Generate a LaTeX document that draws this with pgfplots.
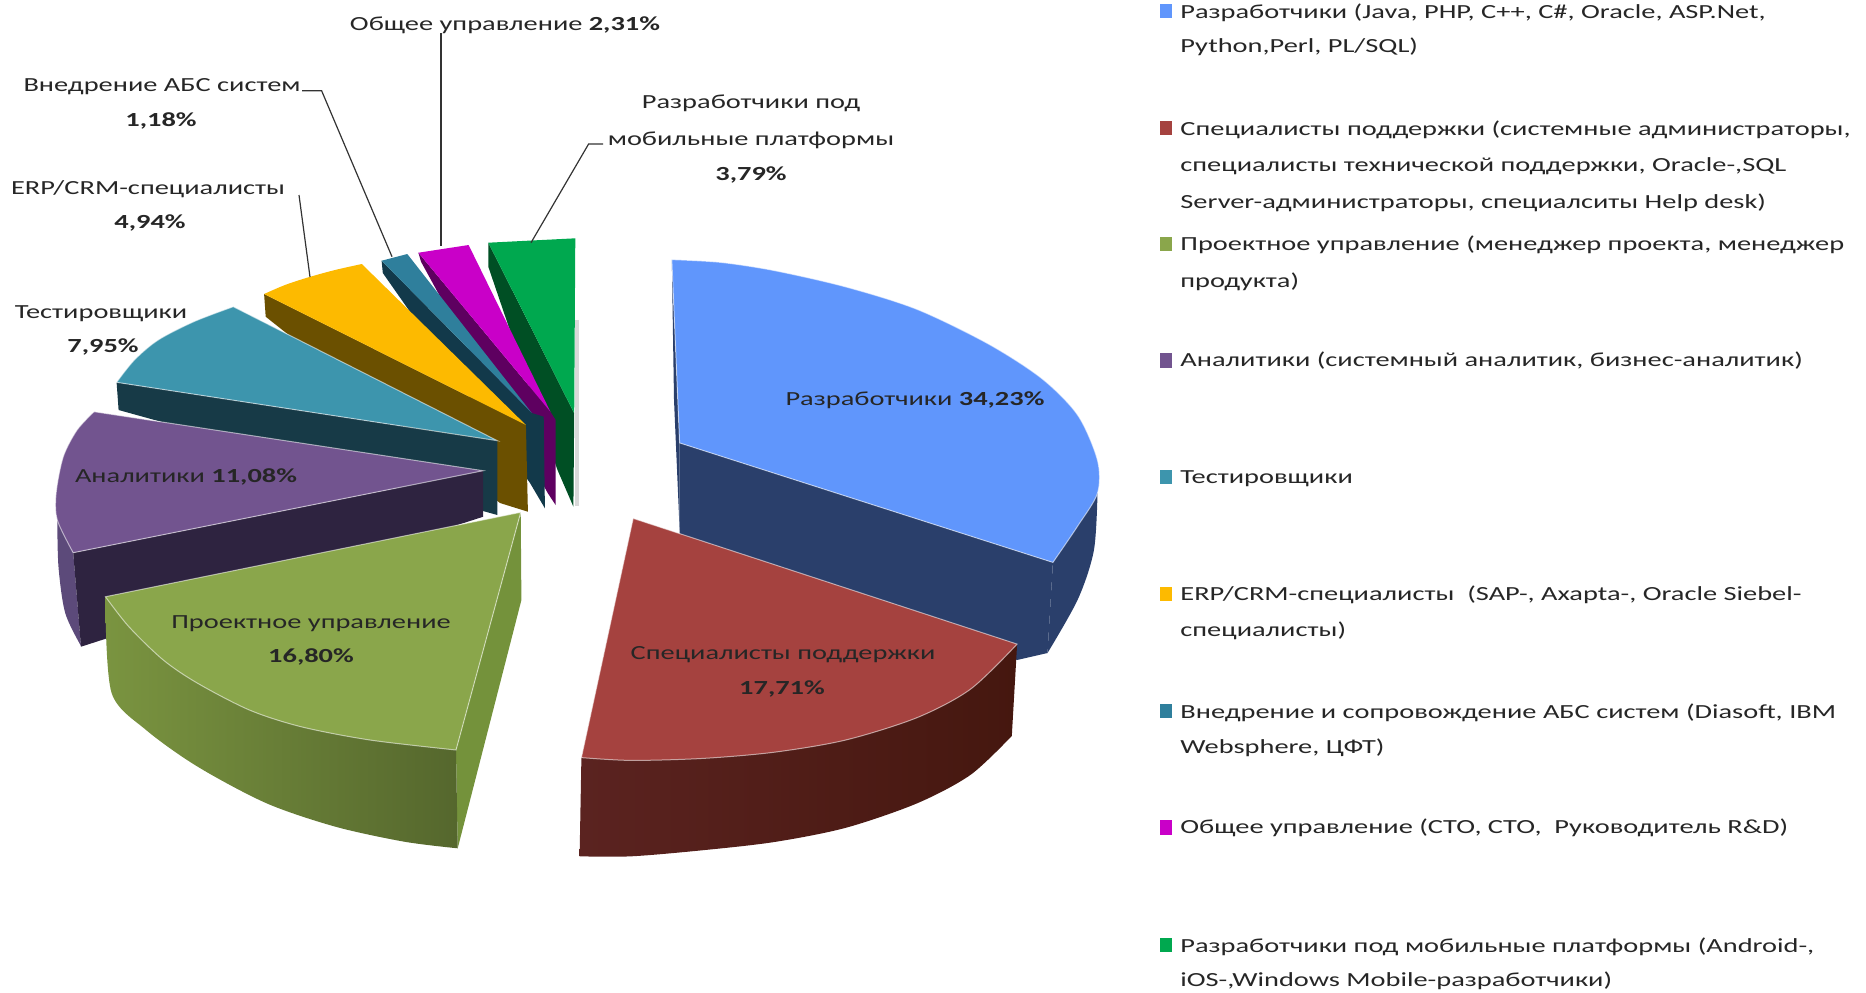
\documentclass[border=0pt]{standalone}
\usepackage{fontspec}
\setmainfont{Carlito}[FakeStretch=1.42]
\usepackage{pgfplots}
\pgfplotsset{compat=1.18}

% slice colours
\definecolor{cBlue}{HTML}{6096FC}
\definecolor{cBlueD}{HTML}{2A3F6B}
\definecolor{cRed}{HTML}{A5423F}
\definecolor{cRedA}{HTML}{5B2320}
\definecolor{cRedB}{HTML}{45170F}
\definecolor{cGreen}{HTML}{8AA64B}
\definecolor{cGreenA}{HTML}{7A9440}
\definecolor{cGreenB}{HTML}{55672D}
\definecolor{cGreenS}{HTML}{74923B}
\definecolor{cPurple}{HTML}{72548F}
\definecolor{cPurpleD}{HTML}{2E2340}
\definecolor{cPurpleS}{HTML}{5C4A7A}
\definecolor{cTeal}{HTML}{3D95AD}
\definecolor{cTealD}{HTML}{173A47}
\definecolor{cYellow}{HTML}{FDBA00}
\definecolor{cYellowD}{HTML}{6B5000}
\definecolor{cAbs}{HTML}{2F7F9C}
\definecolor{cAbsD}{HTML}{12394A}
\definecolor{cMag}{HTML}{C900C8}
\definecolor{cMagD}{HTML}{5E0060}
\definecolor{cMob}{HTML}{00A84F}
\definecolor{cMobD}{HTML}{004F24}

\newcommand{\lab}[3]{\node[anchor=base,inner sep=0pt,yshift=1.5pt,text=black!85] at (axis cs:#1,#2) {#3};}
\newcommand{\leg}[2]{\node[anchor=base west,inner sep=0pt,yshift=1.5pt,text=black!85] at (axis cs:1180,#1) {#2};}

\tikzset{face/.style={draw=white,draw opacity=0.55,line width=0.5pt}}

\begin{document}
\begin{tikzpicture}
\begin{axis}[
  scale only axis,
  width=933pt,
  height=496pt,
  xmin=0,xmax=1866,
  ymin=0,ymax=992,
  y dir=reverse,
  hide axis,
  clip=false,
  no markers,
  every node/.append style={font=\fontsize{15}{18}\selectfont},
]
% mobile developers
\addplot[gray!30,draw=none,fill] coordinates {(575,320) (579,320) (579,506) (575,506)} --cycle;
\addplot[cMobD,fill,draw=none] coordinates {(488.3,242.7) (574.2,413.3) (573.4,506.7) (557.5,470) (488.3,266.7)} --cycle;
\addplot[cMob,fill,draw=none] coordinates {(488.3,242.7) (575.3,238.3) (574.2,413.3)} --cycle;
% general management
\addplot[cMagD,fill,draw=none] coordinates {(418.4,252.7) (550.4,411.7) (555.6,420) (555.6,505) (547.7,493) (421,261.7)} --cycle;
\addplot[cMag,fill,draw=none] coordinates {(418.4,252.7) (468.6,245) (550.4,411.7)} --cycle;
% ABS systems
\addplot[cAbsD,fill,draw=none] coordinates {(381.6,260.7) (531.8,413) (543.7,416.7) (544.9,508.3) (530,483) (382.8,273)} --cycle;
\addplot[cAbs,fill,draw=none] coordinates {(381.6,260.7) (407.3,254) (531.8,413)} --cycle;
% ERP/CRM
\addplot[cYellowD,fill,draw=none] coordinates {(264.1,294) (525.9,425) (527.9,511.7) (500,503) (265.7,316.7)} --cycle;
\addplot[cYellow,fill,draw=none,smooth] coordinates {(264.1,294) (285,285) (308.4,277.3) (335,270) (361.8,264)} -- (axis cs:525.9,425) --cycle;
% testers
\addplot[cTealD,fill,draw=none] coordinates {(116.6,382.3) (497.4,440.7) (497.4,515) (118.6,410)} --cycle;
\addplot[cTeal,face,fill,smooth] coordinates {(116.6,382.3) (134.4,360) (158.2,340) (193.8,321.7) (233.3,306.7)} -- (axis cs:497.4,440.7) --cycle;
% analysts
\addplot[cPurpleS,fill,draw=none,smooth] coordinates {(81,646) (65.2,613) (58.5,567) (57.3,520)} -- (axis cs:73.2,552.7) --cycle;
\addplot[cPurpleD,fill,draw=none] coordinates {(73.2,552.7) (483.2,470.7) (483.2,516.7) (81,646.7)} --cycle;
\addplot[cPurple,face,fill,smooth] coordinates {(73.2,552.7) (57.3,520) (56.1,493.3) (63.3,456.7) (77.1,430) (94.1,411.7)} -- (axis cs:483.2,470.7) --cycle;
% project management
\addplot[cGreenS,fill,draw=none] coordinates {(520.7,512.3) (456,750) (457.7,848.3) (521.4,600)} --cycle;
\addplot[draw=none,left color=cGreenA,right color=cGreenB,smooth] coordinates {(105.5,610) (111.7,693.3) (146.1,730) (197.7,766.7) (266.6,803.3) (335.5,826.7) (404.4,841.7) (457.7,848.3)} -- (axis cs:456,750) -- (axis cs:105.5,596.7) --cycle;
\addplot[cGreen,face,fill,smooth] coordinates {(105.5,596.7) (128.9,626.7) (163.3,660) (197.7,683.3) (249.4,710) (301,726.7) (369.9,740) (456,750)} -- (axis cs:520.7,512.3) --cycle;
% developers
\addplot[cBlueD,fill,draw=none] coordinates {(671.8,259.6) (679.6,442.9) (679.6,529.8) (674,400)} --cycle;
\addplot[cBlueD,fill,draw=none] coordinates {(679.6,442.9) (1052.9,562.4) (1047.5,653) (1017,660) (679.6,540)} --cycle;
\addplot[cBlueD,fill,draw=none,smooth] coordinates {(1047.5,653) (1077.9,599.2) (1093.9,550.2) (1097.5,493.1)} -- (axis cs:1052.9,562.4) --cycle;
\addplot[cBlue,face,fill,smooth] coordinates {(671.8,259.6) (720.7,262.4) (774.3,270.6) (845.7,286.9) (917.1,309.4) (988.6,344.1) (1042.1,378.8) (1077.9,415.5) (1097.5,460.4) (1097.5,493.1) (1077.9,525.7) (1052.9,562.4)} -- (axis cs:679.6,442.9) --cycle;
% support
\addplot[draw=none,left color=cRedA,right color=cRedB,smooth] coordinates {(579.6,856.3) (631.4,856.3) (702.9,850.2) (774.3,842) (845.7,827.8) (917.1,803.3) (970.7,774.7) (1011.8,735.9)} -- (axis cs:1017.1,644.1) -- (axis cs:581.4,757.6) --cycle;
\addplot[cRed,face,fill,smooth] coordinates {(1017.1,644.1) (970.7,689) (917.1,717.6) (845.7,740) (774.3,752.2) (702.9,758.4) (631.4,760.4) (581.4,757.6)} -- (axis cs:633.2,518.4) --cycle;
% leader lines
\addplot[black!80,line width=0.6pt] coordinates {(441,33) (441,246)};
\addplot[black!80,line width=0.6pt] coordinates {(302,90.7) (321.6,90.7) (392,256.7)};
\addplot[black!80,line width=0.6pt] coordinates {(299,195) (310,277)};
\addplot[black!80,line width=0.6pt] coordinates {(603,144) (588.6,144) (531,242.7)};
% legend swatches
\addplot[cBlue,fill,draw=none] coordinates {(1160,4) (1172,4) (1172,18) (1160,18)} --cycle;
\addplot[cRed,fill,draw=none] coordinates {(1160,121) (1172,121) (1172,135) (1160,135)} --cycle;
\addplot[cGreen,fill,draw=none] coordinates {(1160,237) (1172,237) (1172,251) (1160,251)} --cycle;
\addplot[cPurple,fill,draw=none] coordinates {(1160,353) (1172,353) (1172,368) (1160,368)} --cycle;
\addplot[cTeal,fill,draw=none] coordinates {(1160,470) (1172,470) (1172,484) (1160,484)} --cycle;
\addplot[cYellow,fill,draw=none] coordinates {(1160,587) (1172,587) (1172,601) (1160,601)} --cycle;
\addplot[cAbs,fill,draw=none] coordinates {(1160,704) (1172,704) (1172,718) (1160,718)} --cycle;
\addplot[cMag,fill,draw=none] coordinates {(1160,820) (1172,820) (1172,835) (1160,835)} --cycle;
\addplot[cMob,fill,draw=none] coordinates {(1160,938) (1172,938) (1172,952) (1160,952)} --cycle;
% data labels
\lab{505}{33}{Общее управление \textbf{2,31\%}}
\lab{162}{94}{Внедрение АБС систем}
\lab{161}{129}{\textbf{1,18\%}}
\lab{751}{111}{Разработчики под}
\lab{751}{148}{мобильные платформы}
\lab{751}{183}{\textbf{3,79\%}}
\lab{148}{197}{ERP/CRM-специалисты}
\lab{150}{231}{\textbf{4,94\%}}
\lab{101}{321}{Тестировщики}
\lab{103}{355}{\textbf{7,95\%}}
\lab{186}{485}{Аналитики \textbf{11,08\%}}
\lab{311}{631}{Проектное управление}
\lab{311}{665}{\textbf{16,80\%}}
\lab{915}{408}{Разработчики \textbf{34,23\%}}
\lab{783}{662}{Специалисты поддержки}
\lab{782}{697}{\textbf{17,71\%}}
% legend text
\leg{21}{Разработчики (Java, PHP, C++, C\#, Oracle, ASP.Net,}
\leg{55}{Python,Perl, PL/SQL)}
\leg{138}{Специалисты поддержки (системные администраторы,}
\leg{174}{специалисты технической поддержки, Oracle-,SQL}
\leg{211}{Server-администраторы, специалситы Help desk)}
\leg{253}{Проектное управление (менеджер проекта, менеджер}
\leg{290}{продукта)}
\leg{369}{Аналитики (системный аналитик, бизнес-аналитик)}
\leg{486}{Тестировщики}
\leg{603}{ERP/CRM-специалисты~~(SAP-, Axapta-, Oracle Siebel-}
\leg{639}{специалисты)}
\leg{721}{Внедрение и сопровождение АБС систем (Diasoft, IBM}
\leg{756}{Websphere, ЦФТ)}
\leg{836}{Общее управление (СТО, СТО, ~Руководитель R\&D)}
\leg{955}{Разработчики под мобильные платформы (Android-,}
\leg{989}{iOS-,Windows Mobile-разработчики)}
\end{axis}
\pgfresetboundingbox
\path (current axis.south west) rectangle (current axis.north east);
\end{tikzpicture}
\end{document}
